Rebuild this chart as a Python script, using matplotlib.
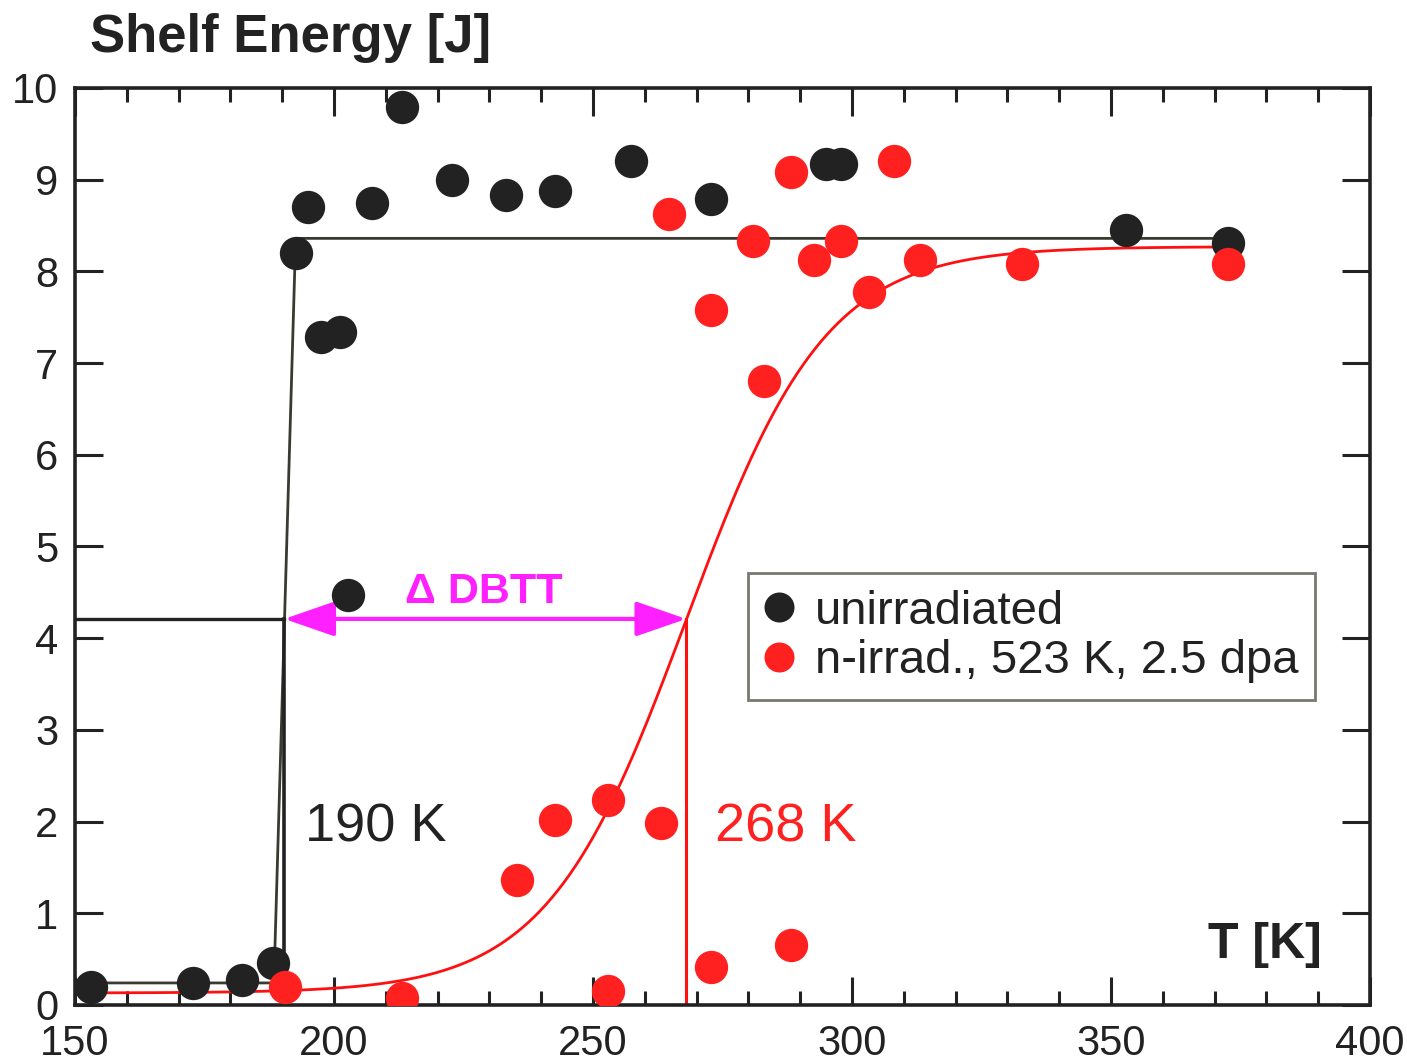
import matplotlib.pyplot as plt
import numpy as np

plt.rcParams['font.family'] = ['Liberation Sans', 'DejaVu Sans']

# measured points
T_unirr = [153.1, 172.8, 182.2, 188.2, 192.7, 195.0, 197.5, 201.2, 202.7, 207.3,
           213.1, 222.8, 233.2, 242.7, 257.3, 272.8, 295.0, 297.9, 352.9, 372.6]
E_unirr = [0.20, 0.24, 0.27, 0.46, 8.20, 8.70, 7.28, 7.34, 4.47, 8.75,
           9.79, 9.00, 8.83, 8.88, 9.20, 8.79, 9.17, 9.17, 8.45, 8.31]

T_irr = [190.5, 213.1, 235.3, 242.7, 252.9, 252.9, 263.1, 264.7, 272.8, 272.8,
         280.9, 283.0, 288.2, 288.2, 292.7, 297.9, 303.3, 308.1, 313.1, 332.8, 372.6]
E_irr = [0.20, 0.08, 1.36, 2.02, 2.24, 0.15, 1.98, 8.63, 7.58, 0.41,
         8.33, 6.80, 9.08, 0.65, 8.12, 8.33, 7.78, 9.20, 8.12, 8.08, 8.08]

# fit for unirradiated (steep step)
fit_unirr_T = [150, 188.4, 192.6, 372.6]
fit_unirr_E = [0.24, 0.24, 8.36, 8.36]

# tanh fit for irradiated
lower_shelf = 0.13
upper_shelf = 8.27
T0_irr = 268.0
width_irr = 27.0

dbtt_unirr = 190.4
dbtt_irr = 268.0
E_half = 4.21

black = '#222222'
red = '#ff2020'
magenta = '#ff20ff'

fig = plt.figure(figsize=(14.07, 10.64), dpi=100)
ax = fig.add_axes([0.0533, 0.0555, 0.9204, 0.8618])

T_fit = np.linspace(150, 372.6, 400)
E_fit = (lower_shelf + upper_shelf) / 2 + (upper_shelf - lower_shelf) / 2 * np.tanh((T_fit - T0_irr) / width_irr)

ax.plot(fit_unirr_T, fit_unirr_E, color='#3a3a30', lw=2, zorder=2)
ax.plot(T_fit, E_fit, color='#ff1010', lw=2, zorder=2)

# DBTT markers
ax.plot([150, dbtt_unirr], [E_half, E_half], color=black, lw=2.4, zorder=2)
ax.plot([dbtt_unirr, dbtt_unirr], [0, E_half], color=black, lw=2.6, zorder=2)
ax.plot([dbtt_irr, dbtt_irr], [0, E_half], color='#ff1010', lw=2.2, zorder=2)
ax.annotate('', xy=(dbtt_irr, E_half), xytext=(dbtt_unirr, E_half),
            arrowprops=dict(arrowstyle='<|-|>,head_length=0.78,head_width=0.27',
                            color=magenta, lw=3, mutation_scale=40,
                            shrinkA=0, shrinkB=0), zorder=3)

ax.plot(T_unirr, E_unirr, 'o', color=black, ms=24, mec='none', zorder=4, label='unirradiated')
ax.plot(T_irr, E_irr, 'o', color=red, ms=24, mec='none', zorder=5, label='n-irrad., 523 K, 2.5 dpa')

ax.text(194.4, 1.78, '190 K', fontsize=39, color=black, va='baseline')
ax.text(273.6, 1.78, '268 K', fontsize=39, color=red, va='baseline')
ax.text(213.7, 4.38, 'Δ DBTT', fontsize=31, color=magenta, fontweight='bold', va='baseline')
ax.text(390.7, 0.51, 'T [K]', fontsize=36, color=black, fontweight='bold', ha='right', va='baseline')
fig.text(0.064, 0.951, 'Shelf Energy [J]', fontsize=38, color=black, fontweight='bold', va='baseline')

ax.set_xlim(150, 400)
ax.set_ylim(0, 10)
ax.set_xticks(np.arange(150, 401, 50))
ax.set_xticks(np.arange(150, 401, 10), minor=True)
ax.set_yticks(np.arange(0, 11, 1))

ax.tick_params(axis='both', which='major', direction='in', length=20, width=2.2,
               labelsize=30, colors=black, top=True, right=True)
ax.tick_params(axis='x', which='minor', direction='in', length=10, width=2.2,
               colors=black, top=True)
ax.tick_params(axis='x', which='major', pad=14)
ax.tick_params(axis='y', which='major', pad=12)
for s in ax.spines.values():
    s.set_linewidth(2.6)
    s.set_color(black)

leg = ax.legend(loc='lower left', bbox_to_anchor=(0.52, 0.3326), fontsize=34,
                frameon=True, fancybox=False, handlelength=0.6, handletextpad=0.45,
                borderpad=0.35, labelspacing=0.12, markerscale=0.9, borderaxespad=0)
leg.get_frame().set_edgecolor('#555550')
leg.get_frame().set_linewidth(2)
for t in leg.get_texts():
    t.set_color(black)

fig.savefig('out.png', dpi=100)
